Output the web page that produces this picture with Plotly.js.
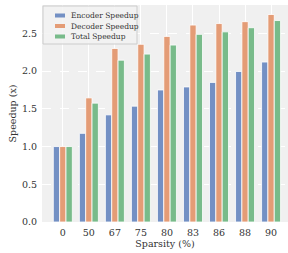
<!DOCTYPE html>
<html><head><meta charset="utf-8">
<script src="https://cdn.plot.ly/plotly-3.0.1.min.js"></script>
<style>html,body{margin:0;padding:0;background:#fff}#c{width:288px;height:253px}</style>
</head><body><div id="c"></div>
<script>
const categories = ["0","50","67","75","80","83","86","88","90"];
const encoder = [1.0, 1.175, 1.42, 1.535, 1.75, 1.79, 1.85, 1.995, 2.12];
const decoder = [1.0, 1.645, 2.30, 2.355, 2.46, 2.61, 2.63, 2.655, 2.75];
const total = [1.0, 1.575, 2.145, 2.225, 2.345, 2.487, 2.52, 2.575, 2.67];
const names = ["Encoder Speedup","Decoder Speedup","Total Speedup"];
const colors = ["#7390c4","#e49c76","#78bb8a"];
const series = [encoder, decoder, total];
const traces = series.map((s,i)=>({
  type:'bar', x:categories, y:s, name:names[i],
  marker:{color:colors[i], line:{color:'#ffffff', width:0.8}}
}));
const font = {family:'"DejaVu Serif", serif', size:9.5, color:'#333'};
// plot area in pixels (for legend placement)
const L=42, R=288, T=5, B=222;
const px = x => (x-L)/(R-L), py = y => 1-(y-T)/(B-T);
const shapes = [{type:'rect', xref:'paper', yref:'paper', x0:px(43), x1:px(137), y0:py(44), y1:py(6),
  fillcolor:'rgba(242,242,242,0.85)', line:{color:'#cccccc', width:1}, layer:'above'}];
const annotations = [];
const rows = [15.5, 26, 36.5];
names.forEach((n,i)=>{
  shapes.push({type:'rect', xref:'paper', yref:'paper', x0:px(55), x1:px(65), y0:py(rows[i]+2), y1:py(rows[i]-2),
    fillcolor:colors[i], line:{width:0}, layer:'above'});
  annotations.push({xref:'paper', yref:'paper', x:px(69), y:py(rows[i]), xanchor:'left', yanchor:'middle',
    text:n, showarrow:false, font:{family:'"DejaVu Serif", serif', size:7.5, color:'#333'}});
});
Plotly.newPlot('c', traces, {
  width:288, height:253,
  margin:{l:L, r:288-R, t:T, b:253-B},
  paper_bgcolor:'#ffffff', plot_bgcolor:'#f0f0f0',
  barmode:'group', bargap:0.27, bargroupgap:0,
  font:font,
  showlegend:false,
  shapes:shapes, annotations:annotations,
  xaxis:{type:'category', range:[-0.8, 8.65], showgrid:true, gridcolor:'#ffffff', gridwidth:1,
    ticks:'', showline:false, zeroline:false, tickfont:font, ticklabelstandoff:3,
    title:{text:'Sparsity (%)', font:font, standoff:3}},
  yaxis:{range:[0, 2.876], dtick:0.5, tickformat:'.1f', showgrid:true, gridcolor:'#ffffff',
    griddash:'dash', gridwidth:1, zeroline:false, ticks:'', showline:false, tickfont:font, ticklabelstandoff:4,
    title:{text:'Speedup (x)', font:font, standoff:3}}
}, {displayModeBar:false, staticPlot:true});
</script></body></html>
